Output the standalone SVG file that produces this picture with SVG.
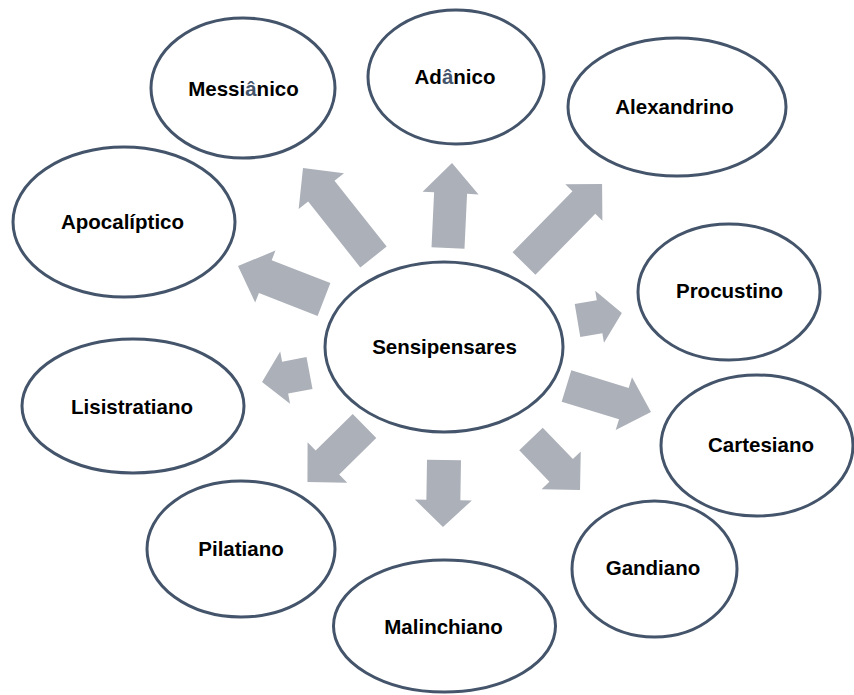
<svg xmlns="http://www.w3.org/2000/svg" width="854" height="695" viewBox="0 0 854 695">
<style>
.node ellipse{fill:#ffffff;stroke:#44546a;stroke-width:3}
.node text{font-family:"Liberation Sans",Arial,sans-serif;font-weight:bold;font-size:20.5px;fill:#000000;text-anchor:middle}
.acc{fill:#44546a}
.arrow{fill:#acb0b8;stroke:none}
</style>
<rect width="854" height="695" fill="#ffffff"/>
<g id="connectors">
<polygon class="arrow" transform="translate(448,248) rotate(-87.3)" points="0,-16.5 55,-16.5 55,-28 85,0 55,28 55,16.5 0,16.5"/>
<polygon class="arrow" transform="translate(373.5,257) rotate(-128.4)" points="0,-16.8 84,-16.8 84,-28.9 113.5,0 84,28.9 84,16.8 0,16.8"/>
<polygon class="arrow" transform="translate(524,263.5) rotate(-45.5)" points="0,-16 85.4,-16 85.4,-26 111.4,0 85.4,26 85.4,16 0,16"/>
<polygon class="arrow" transform="translate(577.5,320.5) rotate(-9.6)" points="0,-16.7 22.4,-16.7 22.4,-26.3 45,0 22.4,26.3 22.4,16.7 0,16.7"/>
<polygon class="arrow" transform="translate(566.5,386) rotate(17.1)" points="0,-16.4 60,-16.4 60,-27.7 88.4,0 60,27.7 60,16.4 0,16.4"/>
<polygon class="arrow" transform="translate(531,439) rotate(46.1)" points="0,-16.3 43.5,-16.3 43.5,-27.2 70.7,0 43.5,27.2 43.5,16.3 0,16.3"/>
<polygon class="arrow" transform="translate(444,460) rotate(90.9)" points="0,-17 40,-17 40,-28.5 67,0 40,28.5 40,17 0,17"/>
<polygon class="arrow" transform="translate(364.5,426) rotate(135.5)" points="0,-16.8 52,-16.8 52,-28.3 80,0 52,28.3 52,16.8 0,16.8"/>
<polygon class="arrow" transform="translate(309.5,373) rotate(169.3)" points="0,-16.2 24.8,-16.2 24.8,-26.5 48.3,0 24.8,26.5 24.8,16.2 0,16.2"/>
<polygon class="arrow" transform="translate(324,299.5) rotate(-158.7)" points="0,-17.6 63,-17.6 63,-27.9 92.3,0 63,27.9 63,17.6 0,17.6"/>
</g>
<g id="messianico" class="node"><ellipse cx="243" cy="88" rx="92" ry="70"/><text x="243.5" y="96">Messi<tspan class="acc">â</tspan>nico</text></g>
<g id="adanico" class="node"><ellipse cx="456" cy="77" rx="88" ry="67"/><text x="455" y="83.5">Ad<tspan class="acc">â</tspan>nico</text></g>
<g id="alexandrino" class="node"><ellipse cx="677" cy="107" rx="109" ry="69"/><text x="674.5" y="114">Alexandrino</text></g>
<g id="apocaliptico" class="node"><ellipse cx="124" cy="222" rx="111" ry="75"/><text x="122.5" y="229">Apocalíptico</text></g>
<g id="procustino" class="node"><ellipse cx="729" cy="292" rx="91" ry="68"/><text x="729.5" y="298">Procustino</text></g>
<g id="sensipensares" class="node"><ellipse cx="444" cy="347" rx="119" ry="85"/><text x="444.5" y="354">Sensipensares</text></g>
<g id="lisistratiano" class="node"><ellipse cx="133" cy="406" rx="111" ry="67"/><text x="132" y="414">Lisistratiano</text></g>
<g id="cartesiano" class="node"><ellipse cx="757" cy="445.5" rx="96" ry="70.5"/><text x="761" y="452">Cartesiano</text></g>
<g id="pilatiano" class="node"><ellipse cx="241" cy="549" rx="94" ry="68"/><text x="241" y="556">Pilatiano</text></g>
<g id="gandiano" class="node"><ellipse cx="654.5" cy="569" rx="82.5" ry="68"/><text x="653" y="575">Gandiano</text></g>
<g id="malinchiano" class="node"><ellipse cx="444.5" cy="626" rx="111" ry="66"/><text x="443.5" y="634">Malinchiano</text></g>
</svg>
